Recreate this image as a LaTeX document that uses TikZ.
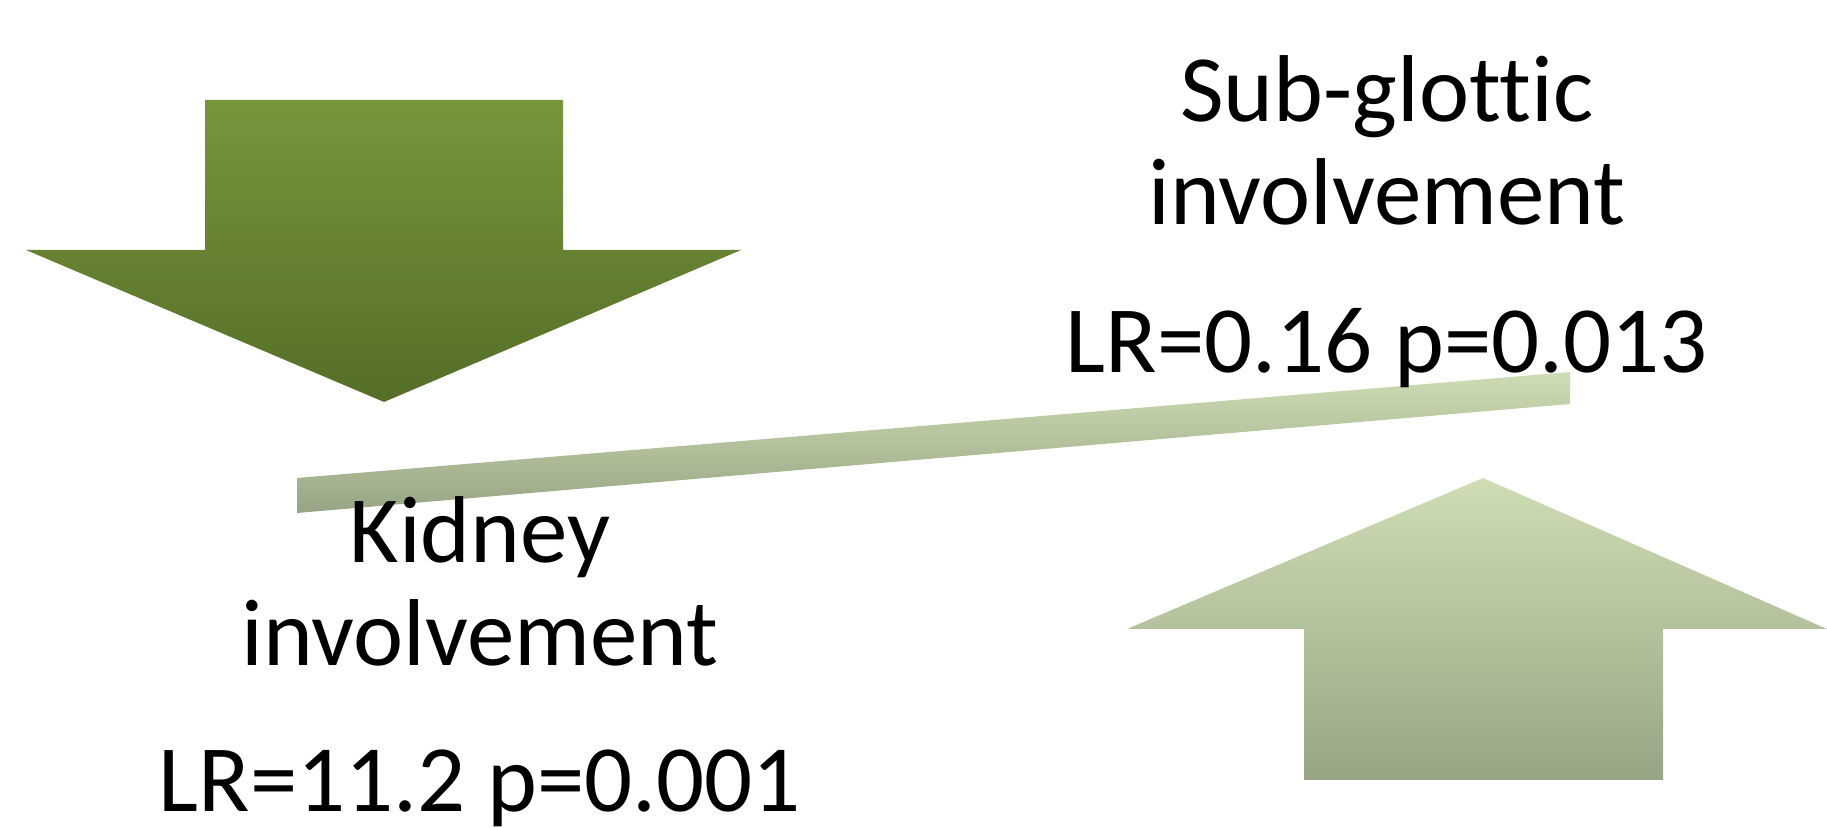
\documentclass[tikz,border=0pt]{standalone}
\usepackage{fontspec}
\setmainfont{Carlito}[Ligatures=NoCommon]
\begin{document}
\begin{tikzpicture}[x=0.01cm, y=-0.01cm,
  label text/.style={anchor=base, inner sep=0pt, font=\fontsize{27}{30}\selectfont},
  dark arrow/.style={top color=darkTop, bottom color=darkBot},
  pale arrow/.style={top color=paleTop, bottom color=paleBot}]
\definecolor{darkTop}{HTML}{77963B}
\definecolor{darkBot}{HTML}{556E28}
\definecolor{paleTop}{HTML}{CEDDB4}
\definecolor{paleBot}{HTML}{98A585}
\useasboundingbox (0,0) rectangle (1827,828);
% arrows
\shade[dark arrow] (205,100) -- (563,100) -- (563,250) -- (741,250) -- (384,402) -- (26,250) -- (205,250) -- cycle;
\shade[pale arrow] (1304,780) -- (1663,780) -- (1663,629) -- (1827,629) -- (1483,478) -- (1127,629) -- (1304,629) -- cycle;
% beam
\shade[top color=paleTop, bottom color=paleBot] (297,478) -- (1570,372) -- (1570,404) -- (297,513) -- cycle;
% labels
\node[label text] (S_0) at (1387,122) {Sub-glottic};
\node[label text] (S_1) at (1387,225) {involvement};
\node[label text] (S_2) at (1387,373) {LR=0.16 p=0.013};
\node[label text] (K_0) at (480,563) {Kidney};
\node[label text] (K_1) at (480,666) {involvement};
\node[label text] (K_2) at (480,812) {LR=11.2 p=0.001};
\end{tikzpicture}
\end{document}
